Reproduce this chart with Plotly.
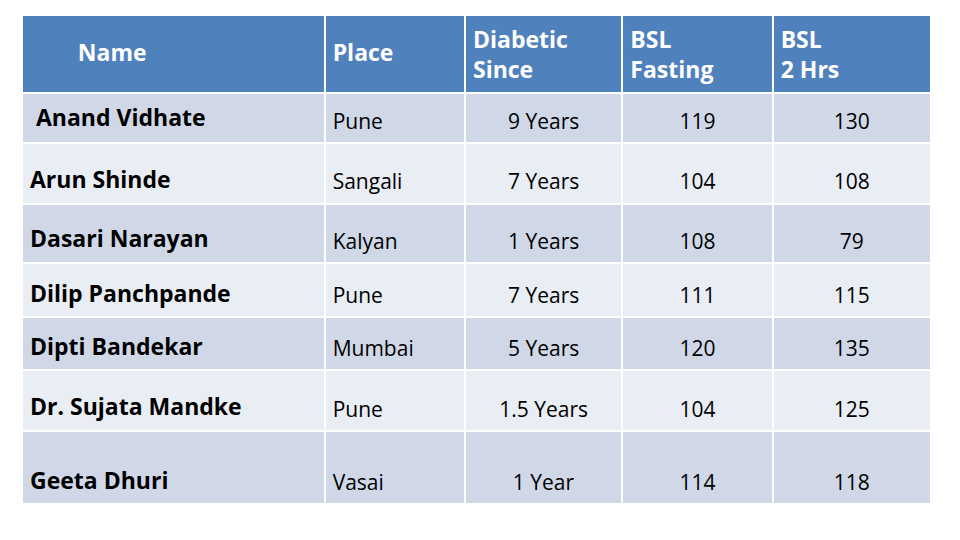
import plotly.graph_objects as go

headers     = ["Name", "Place", "Diabetic<br>Since", "BSL<br>Fasting", "BSL<br>2 Hrs"]
names       = ["\u00a0Anand Vidhate", "Arun Shinde", "Dasari Narayan", "Dilip Panchpande",
               "Dipti Bandekar", "Dr. Sujata Mandke", "Geeta Dhuri"]
places      = ["Pune", "Sangali", "Kalyan", "Pune", "Mumbai", "Pune", "Vasai"]
since       = ["9 Years", "7 Years", "1 Years", "7 Years", "5 Years", "1.5 Years", "1 Year"]
bsl_fasting = [119, 104, 108, 111, 120, 104, 114]
bsl_2hrs    = [130, 108, 79, 115, 135, 125, 118]

FONT = "'Open Sans', Lato, sans-serif"
band_colors = ["#D0D8E8" if i % 2 == 0 else "#E9EDF4" for i in range(len(names))]

head_size, name_size, body_size = 23, 23, 21
row_px = [50, 60, 59, 54, 53, 60, 73]   # slide rows are not all the same height
PAD, ASC, DESC, LINE = 8, 1.069, 0.293, 1.3   # plotly cell padding, Open Sans metrics


def lowered(text, font_px, row_h, bold=False):
    # plotly tables top-align text and grow a row to fit its content:
    # a blank first line of a chosen size both sets the row height and drops the text to the bottom
    t = str(text).replace(" ", "\u00a0")
    t = f"<b>{t}</b>" if bold else t
    spacer = (row_h - 2 * PAD - (LINE + DESC) * font_px) / ASC
    if spacer < 0.3:
        return t
    return f'<span style="font-size:{spacer:.2f}px">\u00a0</span><br>{t}'


header_vals = [lowered("\u00a0" * 8 + headers[0], head_size, 61, bold=True),
               lowered(headers[1], head_size, 61, bold=True)] + \
              [f"<b>{h}</b>" for h in headers[2:]]

cell_vals = [
    [lowered(n, name_size, h, bold=True) for n, h in zip(names, row_px)],
    [lowered(p, body_size, h) for p, h in zip(places, row_px)],
    [lowered(s, body_size, h) for s, h in zip(since, row_px)],
    [lowered(v, body_size, h) for v, h in zip(bsl_fasting, row_px)],
    [lowered(v, body_size, h) for v, h in zip(bsl_2hrs, row_px)],
]

fig = go.Figure()
fig.add_trace(go.Table(
    columnwidth=[302, 140, 157, 150, 158],
    header=dict(
        values=header_vals,
        fill_color="#4F81BD",
        line=dict(color="white", width=2),
        align="left",
        font=dict(family=FONT, size=head_size, color="white"),
        height=73,
    ),
    cells=dict(
        values=cell_vals,
        fill_color=[band_colors] * 5,
        line=dict(color="white", width=2),
        align=["left", "left", "center", "center", "center"],
        font=dict(family=FONT, size=[name_size] + [body_size] * 4, color="black"),
        height=40,
    ),
    domain=dict(x=[14 / 960, 923 / 960], y=[0, 1 - 7 / 540]),
))

fig.update_layout(
    width=960, height=540,
    paper_bgcolor="white",
    margin=dict(t=0, b=0, l=0, r=0),
)
fig.write_html("out.html")
